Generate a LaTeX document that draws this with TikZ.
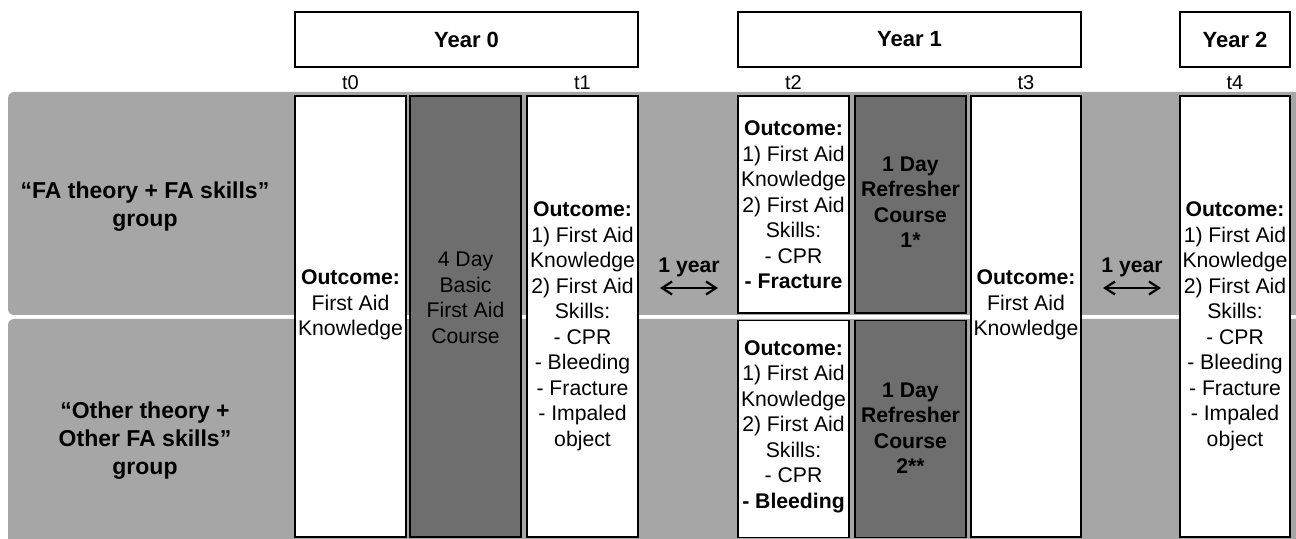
\documentclass[tikz,border=0pt]{standalone}
\usepackage{fontspec}
\setmainfont{Liberation Sans}
\usepackage{tikz}
\usetikzlibrary{calc,arrows.meta}

\definecolor{bandgray}{HTML}{A6A6A6}
\definecolor{coursegray}{HTML}{6E6E6E}

\tikzset{
  yearbox/.style={rectangle, draw=black, fill=white, line width=0.8pt, minimum height=27.5pt, inner sep=0pt, font=\fontsize{11}{13}\selectfont\bfseries},
  whitecol/.style={rectangle, draw=black, fill=white, line width=0.8pt, minimum width=55.5pt, inner sep=0pt},
  darkcol/.style={rectangle, draw=black, fill=coursegray, line width=0.8pt, minimum width=55.5pt, inner sep=0pt},
  fullcol/.style={minimum height=220.5pt},
  halfcol/.style={minimum height=108.5pt},
  coltxt/.style={align=center, inner sep=0pt, font=\fontsize{10.6}{12.75}\selectfont},
  grouptxt/.style={align=center, inner sep=0pt, font=\fontsize{11.5}{14}\selectfont\bfseries},
  timetxt/.style={inner sep=0pt, font=\fontsize{10}{12}\selectfont},
  gaparrow/.style={{Straight Barb[length=5pt,width=6.5pt]}-{Straight Barb[length=5pt,width=6.5pt]}, line width=1.1pt}
}

\begin{document}
\begin{tikzpicture}[x=0.5pt, y=-0.5pt]
    \useasboundingbox (0,0) rectangle (1296,539);

    % group bands
    \fill[bandgray, rounded corners=3] (8,92) rectangle (1304,315);
    \fill[bandgray, rounded corners=3] (8,319) rectangle (1304,548);

    \node[grouptxt] (g1) at (145,207) {“FA theory + FA skills”\\group};
    \node[grouptxt] (g2) at (145,441) {“Other theory +\\Other FA skills”\\group};

    % years
    \node[yearbox, minimum width=171.5pt] (y0) at (466.5,39.5) {Year 0};
    \node[yearbox, minimum width=171.5pt] (y1) at (909.5,39.5) {Year 1};
    \node[yearbox, minimum width=55pt] (y2) at (1235,39.5) {Year 2};

    % columns
    \node[whitecol, fullcol] (c0) at (350.5,316.5) {};
    \node[darkcol, fullcol] (course) at (465.5,316.5) {};
    \node[whitecol, fullcol] (c1) at (582.5,316.5) {};
    \node[whitecol, halfcol] (c2a) at (793.5,204.5) {};
    \node[whitecol, halfcol] (c2b) at (793.5,429) {};
    \node[darkcol, halfcol] (ref1) at (910.5,204.5) {};
    \node[darkcol, halfcol] (ref2) at (910.5,429) {};
    \node[whitecol, fullcol, minimum width=55pt] (c3) at (1026,316.5) {};
    \node[whitecol, fullcol, minimum width=55pt] (c4) at (1235,316.5) {};

    % time points
    \node[timetxt] (t0) at (350.5,83) {t0};
    \node[timetxt] (t1) at (582.5,83) {t1};
    \node[timetxt] (t2) at (793.5,83) {t2};
    \node[timetxt] (t3) at (1026,83) {t3};
    \node[timetxt] (t4) at (1235,83) {t4};

    % column texts
    \node[coltxt] (c0txt) at ($(c0) + (0,-11.5)$) {\textbf{Outcome:}\\First Aid\\Knowledge};
    \node[coltxt, text=black] (coursetxt) at ($(course) + (0,-18.5)$) {4 Day\\Basic\\First Aid\\Course};
    \node[coltxt] (c1txt) at ($(c1) + (0,10)$) {\textbf{Outcome:}\\1) First Aid\\Knowledge\\2) First Aid\\Skills:\\- CPR\\- Bleeding\\- Fracture\\- Impaled\\object};
    \node[coltxt] (c2atxt) at ($(c2a) + (0,0.5)$) {\textbf{Outcome:}\\1) First Aid\\Knowledge\\2) First Aid\\Skills:\\- CPR\\\textbf{- Fracture}};
    \node[coltxt] (c2btxt) at ($(c2b) + (0,-2.5)$) {\textbf{Outcome:}\\1) First Aid\\Knowledge\\2) First Aid\\Skills:\\- CPR\\\textbf{- Bleeding}};
    \node[coltxt, font=\fontsize{10.6}{12.75}\selectfont\bfseries] (ref1txt) at ($(ref1) + (0,-2.5)$) {1 Day\\Refresher\\Course\\1*};
    \node[coltxt, font=\fontsize{10.6}{12.75}\selectfont\bfseries] (ref2txt) at ($(ref2) + (0,-1)$) {1 Day\\Refresher\\Course\\2**};
    \node[coltxt] (c3txt) at ($(c3) + (0,-11.5)$) {\textbf{Outcome:}\\First Aid\\Knowledge};
    \node[coltxt] (c4txt) at ($(c4) + (0,10)$) {\textbf{Outcome:}\\1) First Aid\\Knowledge\\2) First Aid\\Skills:\\- CPR\\- Bleeding\\- Fracture\\- Impaled\\object};

    % one year gaps
    \node[coltxt, font=\fontsize{10.6}{12.75}\selectfont\bfseries] (gap1) at (689,267) {1 year};
    \node[coltxt, font=\fontsize{10.6}{12.75}\selectfont\bfseries] (gap2) at (1132,267) {1 year};
    \coordinate (gap1l) at ($(gap1) + (-29,21)$);
    \coordinate (gap1r) at ($(gap1) + (29,21)$);
    \coordinate (gap2l) at ($(gap2) + (-29,21)$);
    \coordinate (gap2r) at ($(gap2) + (29,21)$);
    \draw[gaparrow] (gap1l) -- (gap1r);
    \draw[gaparrow] (gap2l) -- (gap2r);
\end{tikzpicture}
\end{document}
